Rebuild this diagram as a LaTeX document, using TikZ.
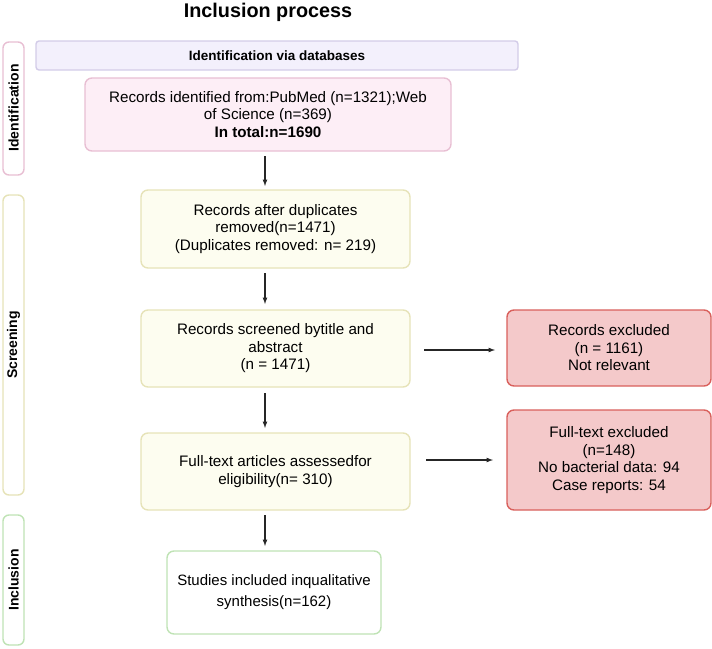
\documentclass[tikz,border=0pt]{standalone}
\usepackage{fontspec}
\setmainfont{Liberation Sans}
\usetikzlibrary{positioning}
\definecolor{pinkbd}{HTML}{E8BFD3}
\definecolor{pinkbg}{HTML}{FDEEF6}
\definecolor{yelbd}{HTML}{E6E3B8}
\definecolor{yelbg}{HTML}{FDFDF0}
\definecolor{grnbd}{HTML}{BFE3B5}
\definecolor{lavbd}{HTML}{D3CCE8}
\definecolor{lavbg}{HTML}{F3F0FC}
\definecolor{redbd}{HTML}{D9605C}
\definecolor{redbg}{HTML}{F4C9CA}
\tikzset{
  box/.style={draw, rounded corners=7pt, line width=1.4pt, align=center, font=\fontsize{15.2}{17.5}\selectfont, inner sep=0pt},
  side/.style={draw, rounded corners=6pt, line width=1.4pt, fill=white},
  sidetxt/.style={rotate=90, font=\bfseries\fontsize{14}{16}\selectfont},
  arr/.style={-latex, line width=1.2pt, black!85}
}
\begin{document}
\begin{tikzpicture}[x=1pt,y=-1pt]
  \useasboundingbox (0,0) rectangle (712,648);
  \node[font=\bfseries\fontsize{19.8}{24}\selectfont] (title) at (268,12) {Inclusion process};

  % phases on the left
  \draw[side, draw=pinkbd] (3,42) rectangle (24,175);
  \node[sidetxt] (idlab) at (13.5,108) {Identification};
  \draw[side, draw=yelbd] (3,195) rectangle (24,495);
  \node[sidetxt] (sclab) at (13.5,345) {Screening};
  \draw[side, draw=grnbd] (3,515) rectangle (24,645);
  \node[sidetxt] (inlab) at (13.5,580) {Inclusion};

  % boxes
  \node[box, draw=lavbd, fill=lavbg, rounded corners=3pt, minimum width=482pt, minimum height=29pt,
        font=\bfseries\fontsize{13.5}{15}\selectfont] (db) at (277,55.5) {Identification via databases};
  \node[box, draw=pinkbd, fill=pinkbg, minimum width=366pt, minimum height=73pt] (ident) at (268,114.5)
    {Records identified from:PubMed (n=1321);Web\\of Science (n=369)\\\textbf{In total:n=1690}};
  \node[box, draw=yelbd, fill=yelbg, minimum width=269pt, minimum height=78pt] (dup) at (275.5,229)
    {Records after duplicates\\removed(n=1471)\\(Duplicates removed: n= 219)};
  \node[box, draw=yelbd, fill=yelbg, minimum width=269pt, minimum height=77pt] (scr) at (275.5,348.5)
    {Records screened bytitle and\\abstract\\(n = 1471)};
  \node[box, draw=yelbd, fill=yelbg, minimum width=269pt, minimum height=77pt] (full) at (275.5,471.5)
    {Full-text articles assessedfor\\eligibility(n= 310)};
  \node[box, draw=grnbd, fill=white, minimum width=214pt, minimum height=83pt,
        font=\fontsize{15}{21}\selectfont] (incl) at (274,592.5)
    {Studies included inqualitative\\synthesis(n=162)};
  \node[box, draw=redbd, fill=redbg, minimum width=204pt, minimum height=76pt] (exc1) at (609,348)
    {Records excluded\\(n = 1161)\\Not relevant};
  \node[box, draw=redbd, fill=redbg, minimum width=204pt, minimum height=100pt] (exc2) at (609,460)
    {Full-text excluded\\(n=148)\\No bacterial data: 94\\Case reports: 54};

  % arrows
  \coordinate (a1s) at (265,156); \coordinate (a1e) at (265,186);
  \coordinate (a2s) at (265,273); \coordinate (a2e) at (265,304);
  \coordinate (a3s) at (265,393); \coordinate (a3e) at (265,428);
  \coordinate (a4s) at (265,515); \coordinate (a4e) at (265,546);
  \coordinate (h1s) at (424,350); \coordinate (h1e) at (495,350);
  \coordinate (h2s) at (426,460); \coordinate (h2e) at (493,460);
  \foreach \s/\e in {a1s/a1e,a2s/a2e,a3s/a3e,a4s/a4e,h1s/h1e,h2s/h2e}
    \draw[arr] (\s) -- (\e);
\end{tikzpicture}
\end{document}
